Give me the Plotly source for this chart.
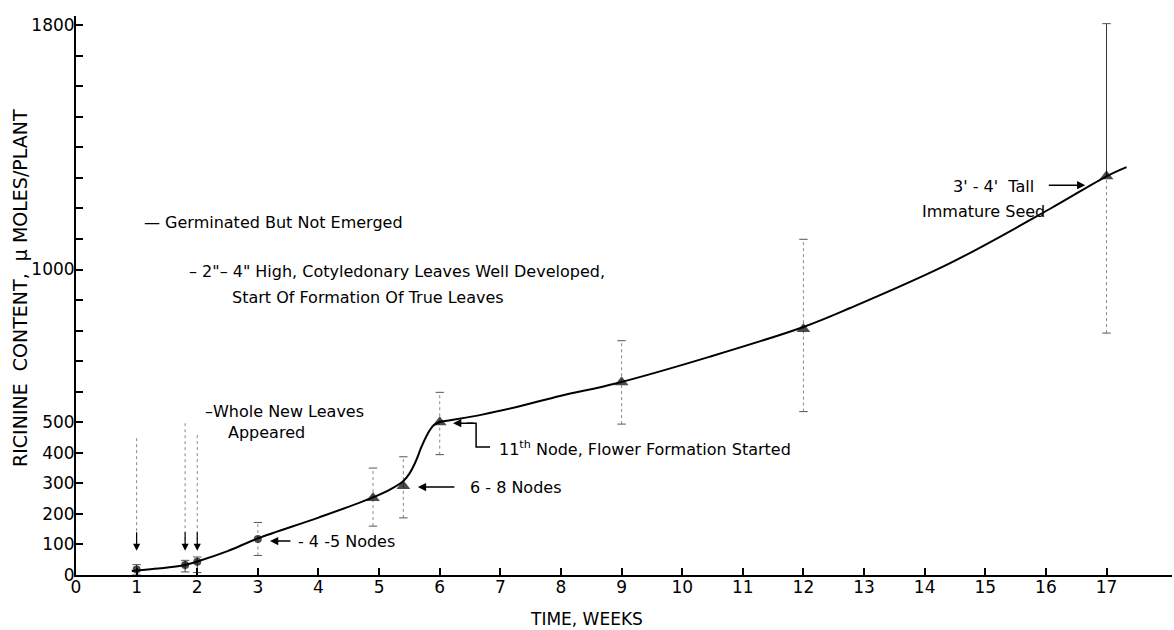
import plotly.graph_objects as go

# Sampling times (weeks) and ricinine content per plant (micromoles)
weeks = [1, 1.8, 2, 3, 4.9, 5.4, 6, 9, 12, 17]
ricinine = [18, 33, 43, 118, 252, 291, 500, 631, 805, 1305]
range_high = [34, 48, 59, 172, 350, 387, 598, 767, 1099, 1805]
range_low = [0, 10, 8, 64, 160, 187, 394, 494, 535, 792]

# Hand-drawn growth curve traced through the measurements
curve_weeks = [0.92, 1.0, 1.4, 1.8, 2.0, 2.5, 3.0, 4.0, 4.9, 5.2, 5.4, 5.5, 5.6,
               5.7, 5.8, 5.9, 6.0, 6.15, 6.7, 7.27, 8.0, 8.92, 10.46,
               12.0, 12.77, 14.42, 16.07, 17.0, 17.33]
curve_values = [13, 15, 22, 33, 44, 78, 120, 188, 254, 282, 308, 332, 370,
                420, 462, 490, 501, 506, 525, 550, 587, 628, 715,
                812, 874, 1021, 1199, 1305, 1335]

# Axis ticks
x_ticks = list(range(0, 18))
y_ticks = list(range(0, 1900, 100))
y_labeled = {0, 100, 200, 300, 400, 500, 1000, 1800}
y_ticktext = [str(v) if v in y_labeled else "" for v in y_ticks]

FONT = "DejaVu Sans, Liberation Sans, sans-serif"
INK = "black"
FAINT = "#8a8a8a"

# Plot area in page pixels
LEFT, RIGHT, TOP, BOTTOM = 76, 1172, 16, 575
W, H = 1174, 630

fig = go.Figure()

# Variation bars: first three stages drawn solid, later ones dotted
solid_upper = {0, 1, 2, 9}
solid_lower = {0, 1, 2}
seg = {"solid": ([], []), "dot": ([], [])}
for i, (w, v, hi, lo) in enumerate(zip(weeks, ricinine, range_high, range_low)):
    key = "solid" if i in solid_upper else "dot"
    seg[key][0].extend([w, w, None])
    seg[key][1].extend([v, hi, None])
    key = "solid" if i in solid_lower else "dot"
    seg[key][0].extend([w, w, None])
    seg[key][1].extend([lo, v, None])

fig.add_trace(go.Scatter(x=seg["dot"][0], y=seg["dot"][1], mode="lines",
                         line=dict(color=FAINT, width=1, dash="dot"),
                         hoverinfo="skip"))
fig.add_trace(go.Scatter(x=seg["solid"][0], y=seg["solid"][1], mode="lines",
                         line=dict(color="#333333", width=1),
                         hoverinfo="skip"))
fig.add_trace(go.Scatter(x=weeks + weeks, y=range_high + range_low, mode="markers",
                         marker=dict(symbol="line-ew", size=6,
                                     line=dict(color="#555555", width=1)),
                         hoverinfo="skip"))

# Smooth curve
fig.add_trace(go.Scatter(x=curve_weeks, y=curve_values, mode="lines",
                         line=dict(color=INK, width=2, shape="spline", smoothing=1.0),
                         hoverinfo="skip"))

# Measured points: dots for seedling stages, triangles afterwards
symbols = ["circle" if w < 4 else "triangle-up" for w in weeks]
sizes = [8 if w < 4 else 12 for w in weeks]
fig.add_trace(go.Scatter(x=weeks, y=ricinine, mode="markers",
                         marker=dict(symbol=symbols, size=sizes, color=INK,
                                     line=dict(width=0))))

# Dotted pointers to the first three sampling stages
for w, top in [(1, 448), (1.8, 497), (2, 458)]:
    fig.add_shape(type="line", x0=w, x1=w, y0=top, y1=100, xref="x", yref="y",
                  line=dict(color=FAINT, width=1, dash="dot"))
    fig.add_annotation(x=w, y=79, ax=0, ay=-20, xref="x", yref="y",
                       showarrow=True, arrowhead=2, arrowsize=1.2, arrowwidth=1.2,
                       arrowcolor=INK, text="")

# Bracket leading to the 11th-node label
fig.add_shape(type="path", path="M 6.45,497 L 6.60,497 L 6.60,419 L 6.83,419",
              xref="x", yref="y", line=dict(color=INK, width=1.5))

arrows = [
    dict(x=3.20, y=111, ax=22, ay=0),
    dict(x=5.64, y=288, ax=38, ay=0),
    dict(x=6.22, y=497, ax=22, ay=0),
    dict(x=16.65, y=1276, ax=-38, ay=0),
]
for a in arrows:
    fig.add_annotation(x=a["x"], y=a["y"], ax=a["ax"], ay=a["ay"], xref="x", yref="y",
                       showarrow=True, arrowhead=2, arrowsize=1.1, arrowwidth=1.5,
                       arrowcolor=INK, text="")

labels = [
    ("\u2014 Germinated But Not Emerged", 1.09, 1155, "left"),
    ("\u2013 2\"\u2013 4\" High, Cotyledonary Leaves Well Developed,", 1.83, 992, "left"),
    ("Start Of Formation Of True Leaves", 2.54, 910, "left"),
    ("\u2013Whole New Leaves", 2.10, 534, "left"),
    ("Appeared", 2.48, 468, "left"),
    ("- 4 -5 Nodes", 3.63, 111, "left"),
    ("6 - 8 Nodes", 6.47, 285, "left"),
    ("11<sup>th</sup> Node, Flower Formation Started", 6.95, 413, "left"),
    ("3' - 4'  Tall", 15.83, 1273, "right"),
    ("Immature Seed", 16.01, 1191, "right"),
]
for text, x, y, anchor in labels:
    fig.add_annotation(x=x, y=y, xref="x", yref="y", text=text, showarrow=False,
                       xanchor=anchor, yanchor="middle",
                       font=dict(family=FONT, size=16, color=INK))

# Axis titles, placed in paper units from page-pixel positions
pw, ph = RIGHT - LEFT, BOTTOM - TOP
fig.add_annotation(text="TIME, WEEKS", showarrow=False,
                   xref="paper", yref="paper",
                   x=(586 - LEFT) / pw, y=-(619 - BOTTOM) / ph,
                   xanchor="center", yanchor="middle",
                   font=dict(family=FONT, size=17, color=INK))
fig.add_annotation(text="RICININE  CONTENT,  \u03bc MOLES/PLANT", showarrow=False,
                   xref="paper", yref="paper",
                   x=-(LEFT - 20) / pw, y=(BOTTOM - 288) / ph,
                   xanchor="center", yanchor="middle", textangle=-90,
                   font=dict(family=FONT, size=19, color=INK))

fig.update_layout(
    width=W, height=H,
    margin=dict(l=LEFT, r=W - RIGHT, t=TOP, b=H - BOTTOM),
    paper_bgcolor="white", plot_bgcolor="white",
    showlegend=False,
    font=dict(family=FONT, color=INK),
    xaxis=dict(range=[0, 18.08], tickmode="array", tickvals=x_ticks,
               ticks="inside", ticklen=7, tickwidth=1.5, tickcolor=INK,
               showline=True, linewidth=2, linecolor=INK,
               showgrid=False, zeroline=False,
               tickfont=dict(family=FONT, size=17, color=INK),
               ticklabelstandoff=-4),
    yaxis=dict(range=[0, 1830], tickmode="array", tickvals=y_ticks, ticktext=y_ticktext,
               ticks="inside", ticklen=7, tickwidth=1.5, tickcolor=INK,
               showline=True, linewidth=2, linecolor=INK,
               showgrid=False, zeroline=False,
               tickfont=dict(family=FONT, size=17, color=INK),
               ticklabelstandoff=-4),
)

fig.write_html("out.html")
